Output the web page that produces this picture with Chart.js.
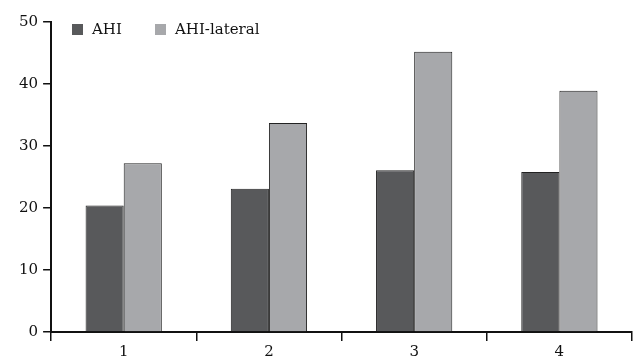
<!DOCTYPE html>
<html>
<head>
<meta charset="utf-8">
<script src="https://cdn.jsdelivr.net/npm/chart.js@4"></script>
<style>
  html, body { margin: 0; padding: 0; background: #fff; }
  #wrap { width: 641px; height: 363px; }
</style>
</head>
<body>
<div id="wrap"><canvas id="chart1"></canvas></div>
<script>
// data
const categories = ['1', '2', '3', '4']
const ahi = [20.4, 23.1, 26.1, 25.8]
const ahiLateral = [27.2, 33.7, 45.2, 38.9]
const seriesNames = ['AHI', 'AHI-lateral']
const yTicks = [0, 10, 20, 30, 40, 50]

const darkGrey = '#58595b'
const lightGrey = '#a7a8ab'
const fontFamily = '"DejaVu Serif", "Liberation Serif", serif'

//legend sits inside the plot, top left, so draw it by hand
const insideLegend = {
  id: 'insideLegend',
  afterDraw(chart) {
    const ctx = chart.ctx
    const spots = [72, 155]
    ctx.save()
    ctx.font = '15px ' + fontFamily
    ctx.textBaseline = 'middle'
    chart.data.datasets.forEach((ds, i) => {
      ctx.fillStyle = ds.backgroundColor
      ctx.fillRect(spots[i], 24, 11, 11)
      ctx.fillStyle = '#111'
      ctx.fillText(ds.label, spots[i] + 20, 30)
    })
    ctx.restore()
  }
}

const ctx1 = document.getElementById('chart1').getContext('2d')
const myChart = new Chart(ctx1, {
  type: 'bar',
  data: {
    labels: categories,
    datasets: [{
      label: seriesNames[0],
      data: ahi,
      backgroundColor: darkGrey,
      borderColor: '#222',
      borderWidth: 1
    }, {
      label: seriesNames[1],
      data: ahiLateral,
      backgroundColor: lightGrey,
      borderColor: '#222',
      borderWidth: 1
    }]
  },
  options: {
    responsive: true,
    maintainAspectRatio: false,
    animation: false,
    layout: { padding: { top: 22, right: 9, left: 14, bottom: 0 } },
    datasets: { bar: { barPercentage: 1, categoryPercentage: 0.525 } },
    plugins: { legend: { display: false }, tooltip: { enabled: false } },
    scales: {
      x: {
        grid: { offset: true, drawOnChartArea: false, drawTicks: true, tickLength: 9, color: '#111', lineWidth: 1.5 },
        border: { display: true, color: '#111', width: 2 },
        ticks: { color: '#111', font: { family: fontFamily, size: 15 }, padding: 2 }
      },
      y: {
        min: 0,
        max: 50,
        afterBuildTicks: (axis) => { axis.ticks = yTicks.map(v => ({ value: v })) },
        grid: { drawOnChartArea: false, drawTicks: true, tickLength: 8, color: '#111', lineWidth: 1.5 },
        border: { display: true, color: '#111', width: 2 },
        ticks: { color: '#111', font: { family: fontFamily, size: 15 }, padding: 5 }
      }
    }
  },
  plugins: [insideLegend]
})
</script>
</body>
</html>
